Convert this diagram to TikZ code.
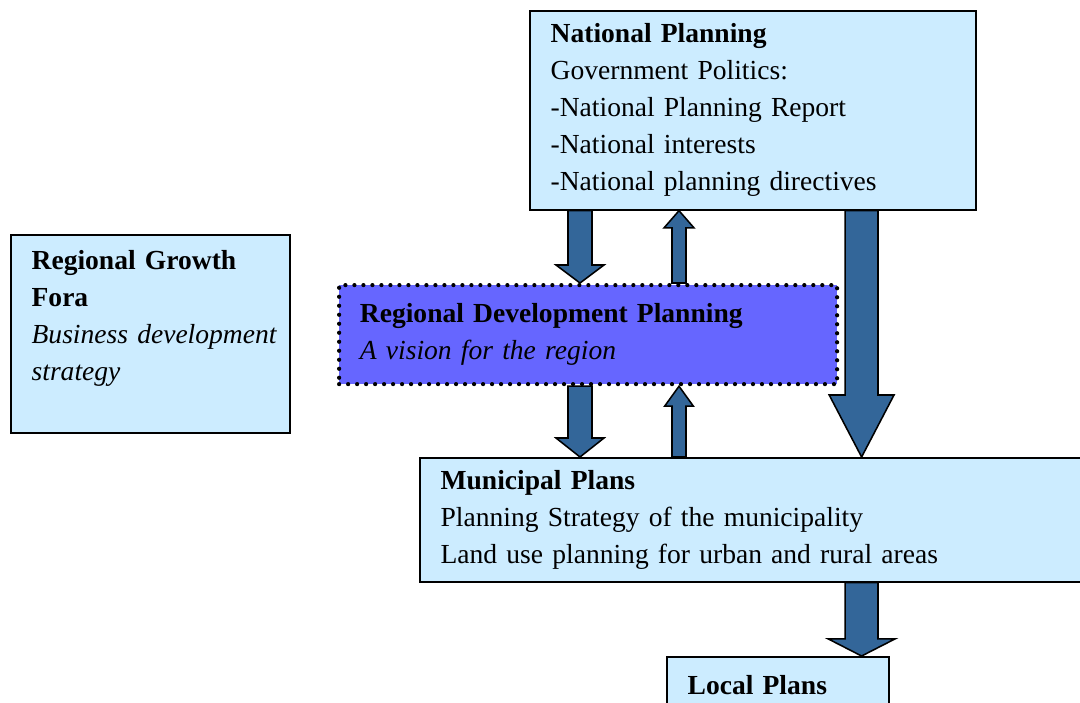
\documentclass[tikz,border=0pt]{standalone}
\usepackage{fontspec}
\setmainfont{Liberation Serif}
\definecolor{paleblue}{HTML}{CCECFF}
\definecolor{violetblue}{HTML}{6666FF}
\definecolor{steelarrow}{HTML}{336699}
\tikzset{
  planbox/.style={draw,line width=1.2pt,fill=paleblue,rectangle,anchor=north west,
    align=left,inner xsep=0.52cm,font=\fontsize{19.6}{26.3}\selectfont},
  regionbox/.style={planbox,fill=violetblue,line width=3pt,line cap=round,
    dash pattern=on 0pt off 6.4pt},
  blockarrow/.style={draw,line width=1.1pt,fill=steelarrow,line join=miter}
}
\newcommand\blockarrow[6]{%
  \coordinate (from) at (#1,0 |- #2);
  \coordinate (to) at (#1,0 |- #3);
  \draw[blockarrow]([shift={(-#4,0)}]from)--([shift={(-#4,#6)}]to)--([shift={(-#5,#6)}]to)
    --(to)--([shift={(#5,#6)}]to)--([shift={(#4,#6)}]to)--([shift={(#4,0)}]from)--cycle;
}

\begin{document}
\begin{tikzpicture}
        \useasboundingbox(0,0)rectangle(27,-17.55);
        \node(national)at(13.225,-0.25)[planbox,text width=10.11cm,minimum height=4.975cm]
          {\textbf{National Planning}\\Government Politics:\\-National Planning Report\\-National interests\\-National planning directives};
        \node(fora)at(0.25,-5.85)[planbox,text width=5.935cm,minimum height=4.95cm]
          {\mbox{\textbf{Regional Growth}}\\\textbf{Fora}\\\mbox{\textit{Business development}}\\\textit{strategy}\\~};
        \node(regional)at(8.425,-7.075)[regionbox,text width=11.41cm,minimum height=2.475cm]
          {\textbf{Regional Development Planning}\\\textit{A vision for the region}};
        \node(municipal)at(10.475,-11.425)[planbox,text width=15.96cm,minimum height=3.1cm]
          {\textbf{Municipal Plans}\\Planning Strategy of the municipality\\Land use planning for urban and rural areas};
        \node(local)at(16.65,-16.4)[planbox,text width=4.51cm,minimum height=1.4cm]
          {\textbf{Local Plans}};
        \blockarrow{14.5}{national.south}{regional.north}{0.3}{0.6}{0.45}
        \blockarrow{16.975}{regional.north}{national.south}{0.175}{0.375}{-0.43}
        \blockarrow{14.5}{regional.south}{municipal.north}{0.3}{0.6}{0.475}
        \blockarrow{16.975}{municipal.north}{regional.south}{0.175}{0.36}{-0.5}
        \blockarrow{21.54}{national.south}{municipal.north}{0.41}{0.81}{1.55}
        \blockarrow{21.54}{municipal.south}{local.north}{0.41}{0.84}{0.43}
\end{tikzpicture}
\end{document}
